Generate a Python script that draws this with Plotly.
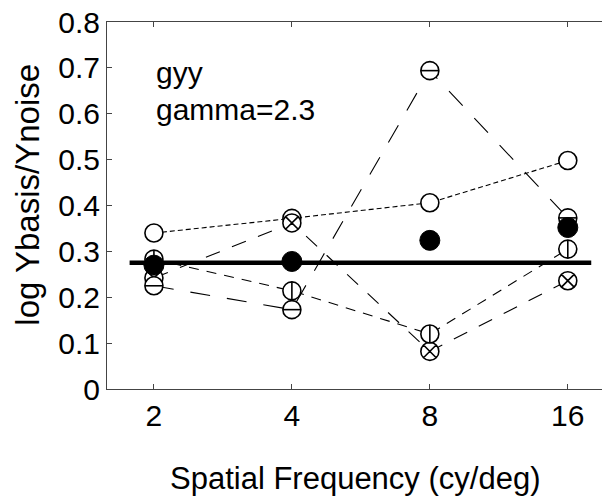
import math
import plotly.graph_objects as go

# ---- data ----
freqs = [2, 4, 8, 16]
freq_labels = ["2", "4", "8", "16"]
series_open = [0.340, 0.372, 0.406, 0.498]      # open circle, short dashes
series_hline = [0.225, 0.173, 0.694, 0.373]     # circle with horizontal bar, long dashes
series_vline = [0.283, 0.214, 0.120, 0.305]     # circle with vertical bar, medium dashes
series_cross = [0.242, 0.362, 0.082, 0.236]     # crossed circle, dashes
series_mean = [0.270, 0.278, 0.324, 0.352]      # filled circles
threshold = 0.275
threshold_x = [1.77, 18.0]
y_ticks = [0, 0.1, 0.2, 0.3, 0.4, 0.5, 0.6, 0.7, 0.8]
y_ticklabels = ["0", "0.1", "0.2", "0.3", "0.4", "0.5", "0.6", "0.7", "0.8"]
x_range = [1.58, 19.0]
y_range = [0, 0.8]

FONT = "Liberation Sans, Arial, Helvetica, sans-serif"
CIRC = 18
fig = go.Figure()

# dashed connecting lines
dashes = [(series_open, "5px,3px"), (series_hline, "20px,17px"),
          (series_vline, "10px,8px"), (series_cross, "15px,13px")]
for ys, d in dashes:
    fig.add_trace(go.Scatter(x=freqs, y=ys, mode="lines",
                             line=dict(color="black", width=1.1, dash=d),
                             hoverinfo="skip", showlegend=False))

# thick reference line
fig.add_trace(go.Scatter(x=threshold_x, y=[threshold, threshold], mode="lines",
                         line=dict(color="black", width=4.5), showlegend=False))

mk_line = dict(color="black", width=1.6)
# open circles
fig.add_trace(go.Scatter(x=freqs, y=series_open, mode="markers",
                         marker=dict(symbol="circle", size=CIRC, color="white", line=mk_line),
                         showlegend=False))
# crossed circles
fig.add_trace(go.Scatter(x=freqs, y=series_cross, mode="markers",
                         marker=dict(symbol="circle-x", size=CIRC, color="white", line=mk_line),
                         showlegend=False))
# vertical bar circles
fig.add_trace(go.Scatter(x=freqs, y=series_vline, mode="markers",
                         marker=dict(symbol="circle", size=CIRC, color="white", line=mk_line),
                         showlegend=False))
fig.add_trace(go.Scatter(x=freqs, y=series_vline, mode="markers",
                         marker=dict(symbol="line-ns-open", size=CIRC / 1.4, color="black", line=mk_line),
                         showlegend=False))
# horizontal bar circles
fig.add_trace(go.Scatter(x=freqs, y=series_hline, mode="markers",
                         marker=dict(symbol="circle", size=CIRC, color="white", line=mk_line),
                         showlegend=False))
fig.add_trace(go.Scatter(x=freqs, y=series_hline, mode="markers",
                         marker=dict(symbol="line-ew-open", size=CIRC / 1.4, color="black", line=mk_line),
                         showlegend=False))
# filled mean circles
fig.add_trace(go.Scatter(x=freqs, y=series_mean, mode="markers",
                         marker=dict(symbol="circle", size=20, color="black", line=dict(color="black", width=1)),
                         showlegend=False))

axcol = "#444"
fig.update_xaxes(type="log", range=[math.log10(x_range[0]), math.log10(x_range[1])],
                 tickvals=freqs, ticktext=freq_labels, ticks="inside", ticklen=5,
                 tickcolor=axcol, showline=True, linecolor=axcol, linewidth=1,
                 mirror="ticks", showgrid=False, zeroline=False,
                 tickfont=dict(family=FONT, size=30, color="black"),
                 ticklabelstandoff=0)
fig.update_yaxes(range=y_range, tickvals=y_ticks, ticktext=y_ticklabels,
                 ticks="inside", ticklen=5, tickcolor=axcol, showline=True,
                 linecolor=axcol, linewidth=1, showgrid=False, zeroline=False,
                 tickfont=dict(family=FONT, size=30, color="black"))

fig.add_annotation(x=math.log10(freqs[0]), y=0.689, xref="x", yref="y", text="gyy",
                   showarrow=False, xanchor="left", yanchor="middle",
                   font=dict(family=FONT, size=30, color="black"))
fig.add_annotation(x=math.log10(freqs[0]), y=0.609, xref="x", yref="y", text="gamma=2.3",
                   showarrow=False, xanchor="left", yanchor="middle",
                   font=dict(family=FONT, size=30, color="black"))
fig.add_annotation(x=0.5, y=-0.243, xref="paper", yref="paper",
                   text="Spatial Frequency (cy/deg)", showarrow=False,
                   xanchor="center", yanchor="middle",
                   font=dict(family=FONT, size=31, color="black"))
fig.add_annotation(x=-0.16, y=0.529, xref="paper", yref="paper",
                   text="log Ybasis/Ynoise", showarrow=False, textangle=-90,
                   xanchor="center", yanchor="middle",
                   font=dict(family=FONT, size=33, color="black"))

fig.update_layout(width=602, height=496, margin=dict(l=107, r=0, t=22, b=107),
                  plot_bgcolor="white", paper_bgcolor="white")
fig.write_html("out.html")
